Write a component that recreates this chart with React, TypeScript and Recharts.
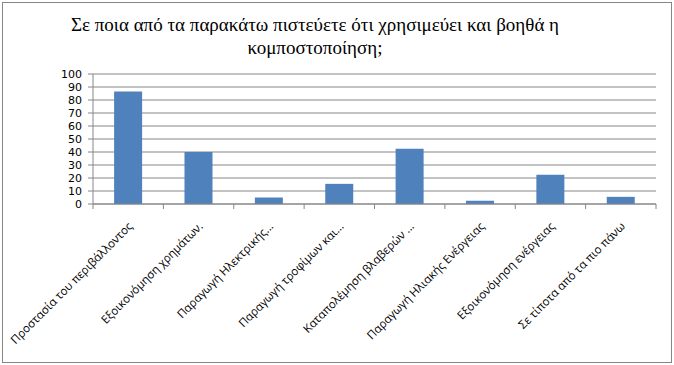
import React from "react";
import { BarChart, Bar, XAxis, YAxis, CartesianGrid } from "recharts";

const TITLE_LINES = [
  "Σε ποια από τα παρακάτω πιστεύετε ότι χρησιμεύει και βοηθά η",
  "κομποστοποίηση;",
];

const CATEGORIES = [
  "Προστασία του περιβάλλοντος",
  "Εξοικονόμηση χρημάτων.",
  "Παραγωγή Ηλεκτρικής...",
  "Παραγωγή τροφίμων και...",
  "Καταπολέμηση βλαβερών ...",
  "Παραγωγή Ηλιακής Ενέργειας",
  "Εξοικονόμηση ενέργειας",
  "Σε τίποτα από τα πιο πάνω",
];

const VALUES = [86.5, 40, 5, 15.5, 42.5, 2.5, 22.5, 5.5];

const Y_TICKS = [0, 10, 20, 30, 40, 50, 60, 70, 80, 90, 100];

const data = CATEGORIES.map((name, i) => ({ name, value: VALUES[i] }));

const AXIS_GRAY = "#868686";

// rotated category label, plus tick marks placed on the band edges
function CategoryTick(props: any) {
  const { x, y, payload, index, visibleTicksCount, width } = props;
  const band = width / visibleTicksCount;
  const left = x - band / 2;
  return (
    <g>
      <line x1={left} y1={y - 8} x2={left} y2={y - 3} stroke={AXIS_GRAY} />
      {index === visibleTicksCount - 1 && (
        <line x1={left + band} y1={y - 8} x2={left + band} y2={y - 3} stroke={AXIS_GRAY} />
      )}
      <text
        x={x + 5}
        y={y + 15}
        transform={`rotate(-45, ${x + 5}, ${y + 15})`}
        textAnchor="end"
        fill="#000"
        fontSize={11.5}
        fontFamily="'Open Sans', sans-serif"
      >
        {payload.value}
      </text>
    </g>
  );
}

export default function App() {
  return (
    <div style={{ position: "absolute", left: 0, top: 0, width: 674, height: 365, background: "#fff" }}>
      <div
        style={{
          position: "absolute", left: 2, top: 2, width: 668, height: 359,
          border: `1px solid ${AXIS_GRAY}`,
        }}
      />
      {TITLE_LINES.map((line, i) => (
        <div
          key={i}
          style={{
            position: "absolute", left: 0, width: 630, top: 13 + i * 23,
            textAlign: "center", fontFamily: "'Liberation Serif', serif",
            fontSize: 19, lineHeight: "23px", color: "#000", whiteSpace: "nowrap",
          }}
        >
          {line}
        </div>
      ))}
      <div style={{ position: "absolute", left: 0, top: 0 }}>
        <BarChart
          width={674}
          height={365}
          data={data}
          margin={{ top: 74, right: 18, bottom: 11, left: 53 }}
          barCategoryGap="30%"
        >
          <CartesianGrid vertical={false} stroke={AXIS_GRAY} />
          <XAxis
            dataKey="name"
            interval={0}
            height={150}
            axisLine={{ stroke: AXIS_GRAY }}
            tickLine={false}
            tick={<CategoryTick />}
          />
          <YAxis
            width={40}
            domain={[0, 100]}
            ticks={Y_TICKS}
            interval={0}
            axisLine={{ stroke: AXIS_GRAY }}
            tickLine={{ stroke: AXIS_GRAY }}
            tickSize={5}
            tickMargin={6}
            tick={{ fill: "#000", fontSize: 11, fontFamily: "'DejaVu Sans', sans-serif" }}
          />
          <Bar dataKey="value" fill="#4F81BD" isAnimationActive={false} />
        </BarChart>
      </div>
    </div>
  );
}
